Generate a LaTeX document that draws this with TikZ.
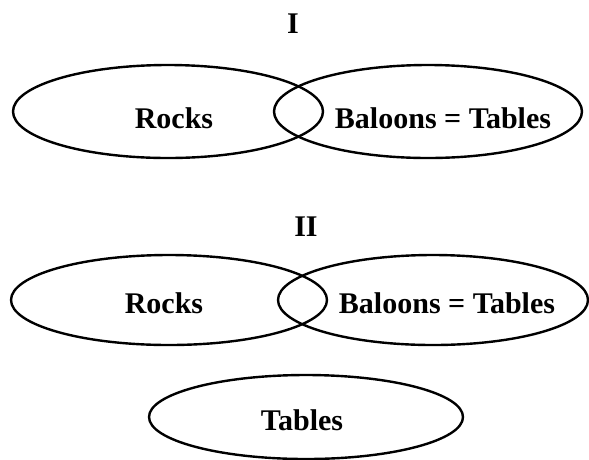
\documentclass[tikz,border=0pt]{standalone}
\usepackage{fontspec}
\setmainfont{Liberation Serif}
\usepackage{tikz}
\usetikzlibrary{shapes.geometric}

\tikzset{
    setshape/.style={ellipse,draw,line width=2.4pt,inner sep=0pt,outer sep=0pt},
    setlabel/.style={font=\fontsize{30}{32}\selectfont\bfseries,inner sep=0pt}
}

\begin{document}
\begin{tikzpicture}[x=1pt,y=-1pt]
    \useasboundingbox (0,0) rectangle (589,459);
    % diagram I
    \node[setlabel] (titleI) at (293,24) {I};
    \node[setshape,minimum width=310pt,minimum height=93pt] (rocksI) at (168,111.5) {};
    \node[setshape,minimum width=308pt,minimum height=93pt] (baloonsI) at (428,111.5) {};
    \node[setlabel] (rocksItext) at (174,118) {Rocks};
    \node[setlabel] (baloonsItext) at (443,118) {Baloons = Tables};
    % diagram II
    \node[setlabel] (titleII) at (306,227) {II};
    \node[setshape,minimum width=316pt,minimum height=90pt] (rocksII) at (169,300) {};
    \node[setshape,minimum width=310pt,minimum height=90pt] (baloonsII) at (433,300) {};
    \node[setlabel] (rocksIItext) at (164,303) {Rocks};
    \node[setlabel] (baloonsIItext) at (447,303) {Baloons = Tables};
    \node[setshape,minimum width=314pt,minimum height=84pt] (tables) at (306,417) {};
    \node[setlabel] (tablestext) at (302,420) {Tables};
\end{tikzpicture}
\end{document}
